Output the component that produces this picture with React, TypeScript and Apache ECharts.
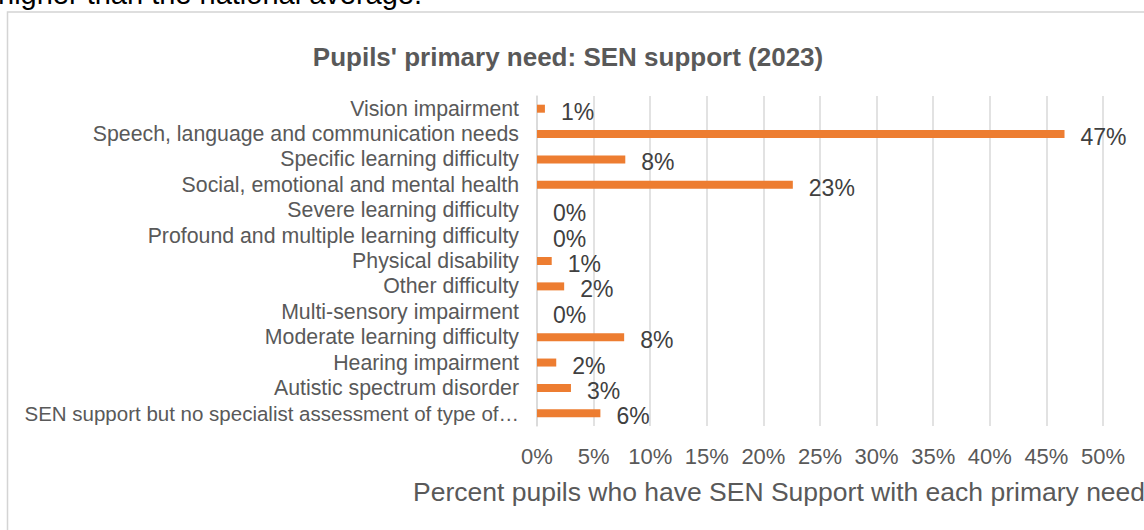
import React, { useEffect, useRef } from "react";
import * as echarts from "echarts";

const categories = [
  "SEN support but no specialist assessment of type of…",
  "Autistic spectrum disorder",
  "Hearing impairment",
  "Moderate learning difficulty",
  "Multi-sensory impairment",
  "Other difficulty",
  "Physical disability",
  "Profound and multiple learning difficulty",
  "Severe learning difficulty",
  "Social, emotional and mental health",
  "Specific learning difficulty",
  "Speech, language and communication needs",
  "Vision impairment",
];

const values = [5.6, 3.0, 1.7, 7.7, 0, 2.4, 1.3, 0, 0, 22.6, 7.8, 46.6, 0.7];

const chartTitle = "Pupils' primary need: SEN support (2023)";
const axisTitle = "Percent pupils who have SEN Support with each primary need";
const pageText = "higher than the national average.";

const FONT = "'Liberation Sans', Arial, sans-serif";

export default function App() {
  const ref = useRef<HTMLDivElement>(null);

  useEffect(() => {
    if (!ref.current) return;
    const chart = echarts.init(ref.current, undefined, { renderer: "svg" });
    chart.setOption({
      animation: false,
      backgroundColor: "#ffffff",
      textStyle: { fontFamily: FONT },
      grid: { left: 537, right: 41, top: 96, bottom: 104, containLabel: false },
      xAxis: {
        type: "value",
        min: 0,
        max: 50,
        interval: 5,
        axisLine: { show: false },
        axisTick: { show: false },
        splitLine: { show: true, lineStyle: { color: "#d9d9d9", width: 1.5 } },
        axisLabel: {
          formatter: "{value}%",
          fontSize: 22,
          color: "#595959",
          fontFamily: FONT,
          margin: 19,
        },
      },
      yAxis: {
        type: "category",
        data: categories,
        axisTick: { show: false },
        axisLine: { show: true, lineStyle: { color: "#d9d9d9", width: 1.5 } },
        axisLabel: {
          interval: 0,
          fontSize: 21.3,
          color: "#595959",
          fontFamily: FONT,
          margin: 18,
          formatter: (v: string) => (v.startsWith("SEN") ? `{s|${v}}` : v),
          rich: {
            s: { fontSize: 20.5, color: "#595959", fontFamily: FONT },
          },
        },
      },
      series: [
        {
          type: "bar",
          data: values,
          barWidth: 8,
          itemStyle: { color: "#ED7D31" },
          label: {
            show: true,
            position: "right",
            distance: 16,
            offset: [0, 3],
            fontSize: 23,
            color: "#404040",
            fontFamily: FONT,
            formatter: (p: any) => Math.round(p.value) + "%",
          },
        },
      ],
      graphic: [
        {
          type: "rect",
          shape: { x: 7.5, y: 12, width: 1200, height: 600 },
          style: { fill: "none", stroke: "#d4d4d4", lineWidth: 1.5 },
          silent: true,
          z: -1,
        },
        {
          type: "text",
          x: -2,
          y: -6,
          style: {
            text: pageText,
            font: `29px ${FONT}`,
            fill: "#000000",
            align: "left",
            verticalAlign: "middle",
          },
        },
        {
          type: "text",
          x: 568,
          y: 57,
          style: {
            text: chartTitle,
            font: `bold 26px ${FONT}`,
            fill: "#595959",
            align: "center",
            verticalAlign: "middle",
          },
        },
        {
          type: "text",
          x: 413,
          y: 492,
          style: {
            text: axisTitle,
            font: `26.5px ${FONT}`,
            fill: "#595959",
            align: "left",
            verticalAlign: "middle",
          },
        },
      ],
    });
    return () => chart.dispose();
  }, []);

  return (
    <div
      ref={ref}
      style={{ position: "absolute", left: 0, top: 0, width: 1144, height: 530 }}
    />
  );
}
